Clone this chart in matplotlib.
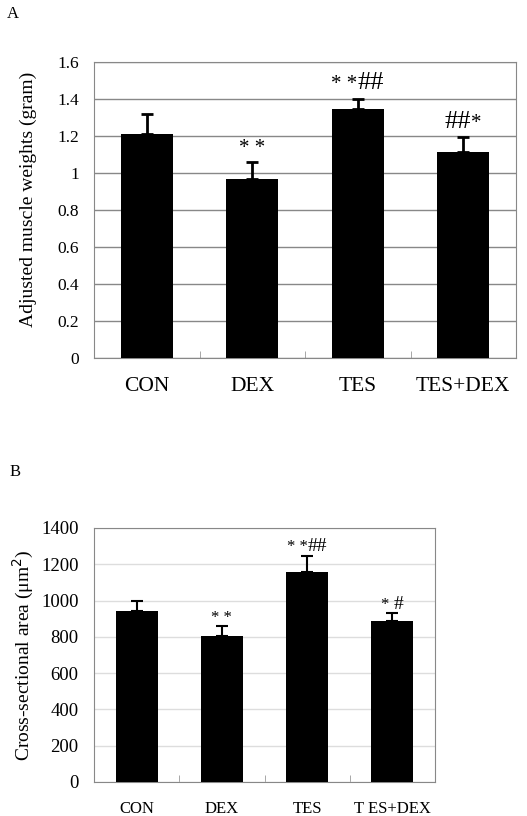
import matplotlib

matplotlib.use("Agg")
import matplotlib.pyplot as plt

plt.rcParams["font.family"] = ["Liberation Serif", "DejaVu Serif"]

groups = ["CON", "DEX", "TES", "TES+DEX"]
groups_b = ["CON", "DEX", "TES", "T ES+DEX"]

# panel A: adjusted muscle weights (gram)
weights = [1.21, 0.965, 1.345, 1.115]
weights_err = [0.108, 0.092, 0.057, 0.077]
weights_marks = [[("* *", 0)], [("* *", 0), ("##", 1)], [("##", 1), ("*", 0)]]
weights_mark_idx = [1, 2, 3]

# panel B: cross-sectional area (um^2)
area = [945, 807, 1155, 885]
area_err = [55, 52, 92, 45]
area_marks = [[("* *", 0)], [("* *", 0), ("##", 1)], [("* ", 0), ("#", 1)]]
area_mark_idx = [1, 2, 3]


def put_marks(fig, ax, x, y, parts, sizes):
    # draw the pieces left to right, then centre the group over the bar
    r = fig.canvas.get_renderer()
    texts = []
    for s, big in parts:
        t = ax.text(x, y, s, ha="left", va="baseline", fontsize=sizes[big])
        texts.append(t)
    widths = [t.get_window_extent(r).width for t in texts]
    off = -sum(widths) / 2
    for t, w in zip(texts, widths):
        t.set_transform(ax.transData + matplotlib.transforms.ScaledTranslation(
            off / fig.dpi, 0, fig.dpi_scale_trans))
        off += w


def draw_panel(fig, ax, values, errs, labels, ymax, ystep, grid_color, lw_err,
               xfs, yfs, marks, mark_idx, sizes, mark_pad):
    x = range(len(values))
    ax.bar(x, values, width=0.49, color="black", zorder=3)
    ax.errorbar(x, values, yerr=[[0] * len(errs), errs], fmt="none",
                ecolor="black", elinewidth=lw_err, capsize=4,
                capthick=lw_err, zorder=4)
    ax.set_xlim(-0.5, len(values) - 0.5)
    ax.set_ylim(0, ymax)
    ax.set_yticks([i * ystep for i in range(int(round(ymax / ystep)) + 1)])
    ax.yaxis.grid(True, color=grid_color, linewidth=1)
    ax.set_axisbelow(True)
    ax.set_xticks(list(x), labels, fontsize=xfs)
    ax.set_xticks([i + 0.5 for i in range(len(values) - 1)], minor=True)
    ax.tick_params(axis="x", which="major", length=0, pad=14)
    ax.tick_params(axis="x", which="minor", direction="in", length=5,
                   color="#999999")
    ax.tick_params(axis="y", length=0, labelsize=yfs, pad=11)
    for s in ax.spines.values():
        s.set_color("#888888")
    for i, m in zip(mark_idx, marks):
        put_marks(fig, ax, i, values[i] + errs[i] + mark_pad, m, sizes)


fig = plt.figure(figsize=(5.27, 8.16), dpi=100)

ax_a = fig.add_axes([0.1784, 0.5613, 0.8008, 0.3627])
draw_panel(fig, ax_a, weights, weights_err, groups, 1.6, 0.2, "#888888", 2,
           15.5, 12.5, weights_marks, weights_mark_idx, (15, 19), 0.05)
ax_a.set_yticks(ax_a.get_yticks(), ["0", "0.2", "0.4", "0.6", "0.8", "1",
                                    "1.2", "1.4", "1.6"])
ax_a.set_ylabel("Adjusted muscle weights (gram)", fontsize=14)
ax_a.yaxis.set_label_coords(-0.135, 0.535)

ax_b = fig.add_axes([0.1784, 0.0417, 0.647, 0.3113])
draw_panel(fig, ax_b, area, area_err, groups_b, 1400, 200, "#dddddd", 1.5,
           12, 13.5, area_marks, area_mark_idx, (12, 14), 25)
ax_b.set_ylabel(r"Cross-sectional area (μm$^{2}$)", fontsize=14, labelpad=4)

fig.text(0.013, 0.983, "A", fontsize=12, va="center")
fig.text(0.018, 0.421, "B", fontsize=12, va="center")

fig.savefig("out.png", dpi=100)
